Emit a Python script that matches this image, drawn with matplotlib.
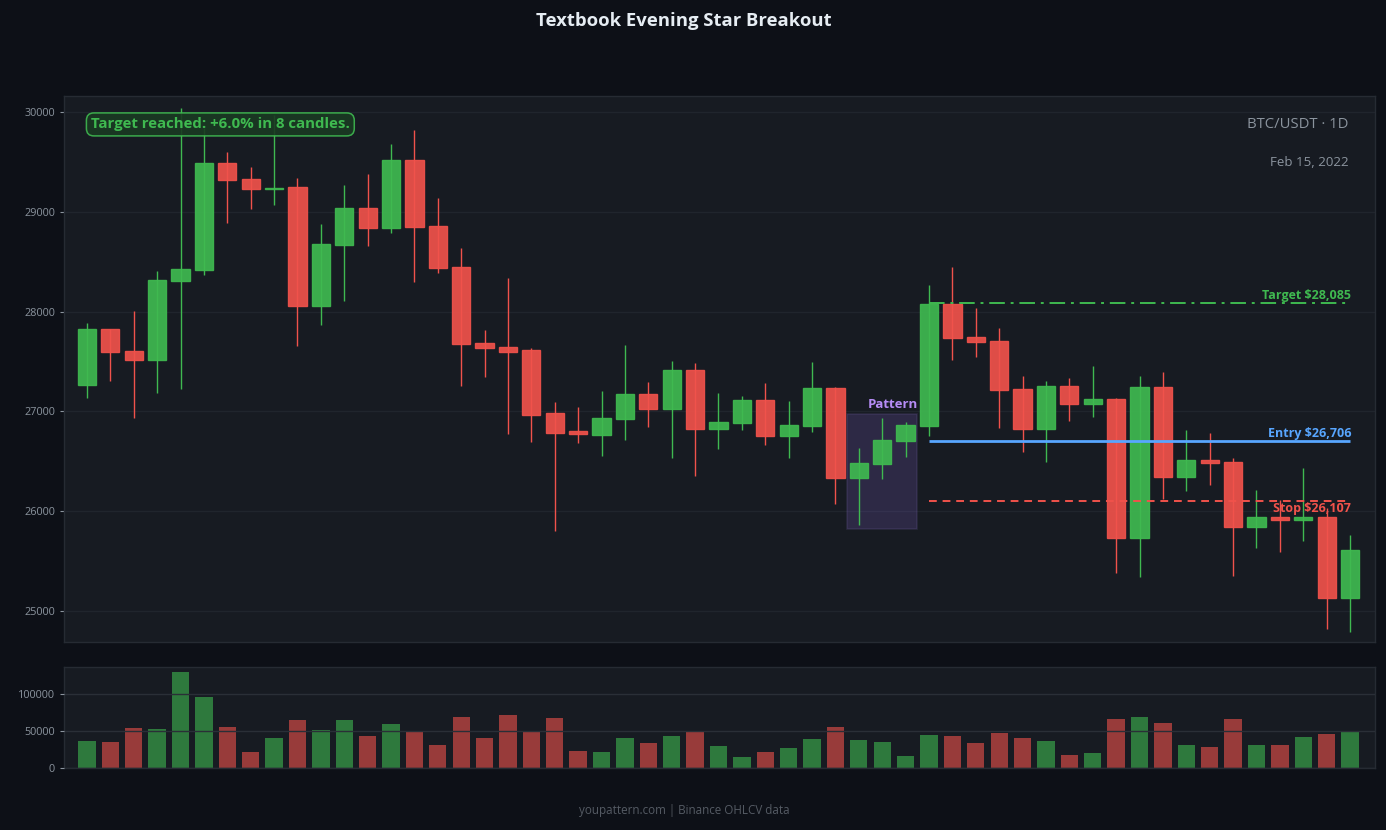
import numpy as np
import matplotlib
matplotlib.use("Agg")
import matplotlib.pyplot as plt
from matplotlib.patches import Rectangle

plt.rcParams['font.family'] = ['Open Sans', 'DejaVu Sans']

# OHLCV (daily candles)
opens = [27262, 27823, 27602, 27512, 28304, 28414, 29486, 29326, 29230, 29245,
         28059, 28664, 29035, 28835, 29516, 28855, 28444, 27682, 27642, 27612,
         26981, 26801, 26767, 26921, 27171, 27027, 27411, 26821, 26881, 27111,
         26751, 26851, 27232, 26330, 26470, 26700, 26851, 28073, 27742, 27702,
         27222, 26821, 27252, 27072, 27122, 25728, 27242, 26340, 26510, 26490,
         25839, 25939, 25915, 25939, 25127]
highs = [27883, 27830, 28006, 28407, 30040, 29840, 29596, 29449, 29970, 29342,
         28878, 29269, 29379, 29679, 29820, 29138, 28634, 27816, 28337, 27640,
         27094, 27044, 27204, 27665, 27295, 27505, 27485, 27184, 27154, 27285,
         27104, 27495, 27240, 26633, 26934, 26891, 28266, 28447, 28036, 27833,
         27355, 27305, 27335, 27455, 27132, 27355, 27395, 26814, 26787, 26530,
         26215, 26115, 26433, 26030, 25758]
lows = [27137, 27308, 26937, 27187, 27225, 28367, 28891, 29028, 29068, 27658,
        27866, 28109, 28660, 28791, 28300, 28390, 27258, 27348, 26774, 26696,
        25805, 26687, 26556, 26717, 26847, 26536, 26356, 26623, 26817, 26667,
        26536, 26794, 26075, 25862, 26323, 26546, 26757, 27518, 27548, 26837,
        26596, 26496, 26907, 26947, 25384, 25344, 26119, 26205, 26266, 25354,
        25634, 25594, 25704, 24816, 24793]
closes = [27823, 27592, 27512, 28314, 28424, 29486, 29316, 29226, 29240, 28059,
          28674, 29035, 28835, 29516, 28845, 28434, 27672, 27632, 27598, 26967,
          26787, 26775, 26931, 27171, 27027, 27411, 26821, 26891, 27111, 26751,
          26861, 27232, 26330, 26480, 26711, 26861, 28073, 27732, 27692, 27212,
          26821, 27252, 27072, 27122, 25728, 27242, 26340, 26510, 26480, 25839,
          25939, 25915, 25939, 25127, 25608]
volumes = [36900, 35550, 54450, 53100, 130050, 96300, 55800, 22050, 40950, 65250,
           51750, 65250, 43650, 59850, 50400, 31500, 69300, 40950, 72000, 49050,
           67950, 23400, 22050, 40950, 34200, 43650, 50400, 30150, 15300, 22050,
           27450, 39600, 55800, 38250, 35550, 16650, 45000, 43650, 34200, 47700,
           40950, 36900, 18000, 20700, 66600, 69300, 61200, 31500, 28800, 66600,
           31500, 31500, 42300, 46350, 50400]

entry_price = 26706
target_price = 28085
stop_price = 26107
pattern_idx = [33, 34, 35]
trade_start = 36

BG = '#0d1017'
PANEL = '#171b22'
GRID = '#20252d'
GREEN = '#3fb950'
RED = '#f0524b'
BLUE = '#58a6ff'
PURPLE = '#b58cf5'
MUTED = '#8b949e'

o = np.array(opens); c = np.array(closes)
h = np.array(highs); l = np.array(lows)
x = np.arange(len(o))
up = c >= o
cols = np.where(up, GREEN, RED)

fig = plt.figure(figsize=(13.86, 8.3), dpi=100, facecolor=BG)
ax = fig.add_axes([0.0462, 0.2265, 0.9459, 0.6578], facecolor=PANEL)
axv = fig.add_axes([0.0462, 0.0747, 0.9459, 0.1217], facecolor=PANEL, sharex=ax)

for a in (ax, axv):
    for s in a.spines.values():
        s.set_color('#262b33')
        s.set_linewidth(1)
    a.tick_params(axis='x', bottom=False, labelbottom=False)
    a.tick_params(axis='y', colors=MUTED, labelsize=7.8, length=3, width=0.8)
    a.grid(axis='y', color=GRID, lw=1)
    a.grid(axis='x', visible=False)

# candles
ax.vlines(x, l, h, colors=cols, lw=1, zorder=2)
body_h = np.maximum(np.abs(c - o), 12)
ax.bar(x, body_h, bottom=np.minimum(o, c), width=0.78, color=cols, alpha=0.92,
       edgecolor=cols, linewidth=1, zorder=3)

ax.set_xlim(-0.98, 55.07)
ax.set_ylim(24690, 30160)
ax.set_yticks([25000, 26000, 27000, 28000, 29000, 30000])
ax.set_axisbelow(True)

# pattern box
plo = min(lows[i] for i in pattern_idx) - 35
phi = max(highs[i] for i in pattern_idx) + 45
ax.add_patch(Rectangle((pattern_idx[0] - 0.5, plo), len(pattern_idx), phi - plo,
                       facecolor='#7c5cc4', alpha=0.22, edgecolor='#6b5a9a',
                       linewidth=1.2, zorder=1))
ax.text(pattern_idx[-1] + 0.55, phi + 25, 'Pattern', color=PURPLE, fontsize=9.5,
        fontweight='bold', ha='right', va='bottom', zorder=5)

# trade levels
xe = x[-1]
ax.hlines(target_price, trade_start, xe, colors=GREEN, lw=1.4,
          linestyles=(0, (8, 3, 1.5, 3)), zorder=4)
ax.hlines(entry_price, trade_start, xe, colors=BLUE, lw=2, zorder=4)
ax.hlines(stop_price, trade_start, xe, colors=RED, lw=1.4,
          linestyles=(0, (4, 3)), zorder=4)
ax.text(xe + 0.05, target_price + 10, f'Target ${target_price:,}', color=GREEN,
        fontsize=9, fontweight='bold', ha='right', va='bottom', zorder=5)
ax.text(xe + 0.05, entry_price + 10, f'Entry ${entry_price:,}', color=BLUE,
        fontsize=9, fontweight='bold', ha='right', va='bottom', zorder=5)
ax.text(xe + 0.05, stop_price - 10, f'Stop ${stop_price:,}', color=RED,
        fontsize=9, fontweight='bold', ha='right', va='top', zorder=5)

# annotations
ax.text(0.0205, 0.948, 'Target reached: +6.0% in 8 candles.', transform=ax.transAxes,
        color=GREEN, fontsize=10.8, fontweight='bold', ha='left', va='center', zorder=6,
        bbox=dict(boxstyle='round,pad=0.3,rounding_size=0.5', facecolor='#1a3a22',
                  edgecolor=GREEN, linewidth=1.1, alpha=0.9))
ax.text(0.9795, 0.947, 'BTC/USDT · 1D', transform=ax.transAxes, color=MUTED,
        fontsize=10.7, ha='right', va='center')
ax.text(0.9795, 0.878, 'Feb 15, 2022', transform=ax.transAxes, color=MUTED,
        fontsize=9.6, ha='right', va='center')

# volume
axv.bar(x, volumes, width=0.74, color=cols, alpha=0.6, linewidth=0, zorder=1)
axv.set_ylim(0, 136500)
axv.set_yticks([0, 50000, 100000])
axv.set_axisbelow(False)
for gl in axv.get_ygridlines():
    gl.set_color('#2a2f37')

fig.text(0.4935, 0.975, 'Textbook Evening Star Breakout', color='#e6edf3',
         fontsize=13.3, fontweight='bold', ha='center', va='center')
fig.text(0.4935, 0.0235, 'youpattern.com | Binance OHLCV data', color='#555b64',
         fontsize=8.4, ha='center', va='center')

fig.savefig('out.png', dpi=100, facecolor=BG)
